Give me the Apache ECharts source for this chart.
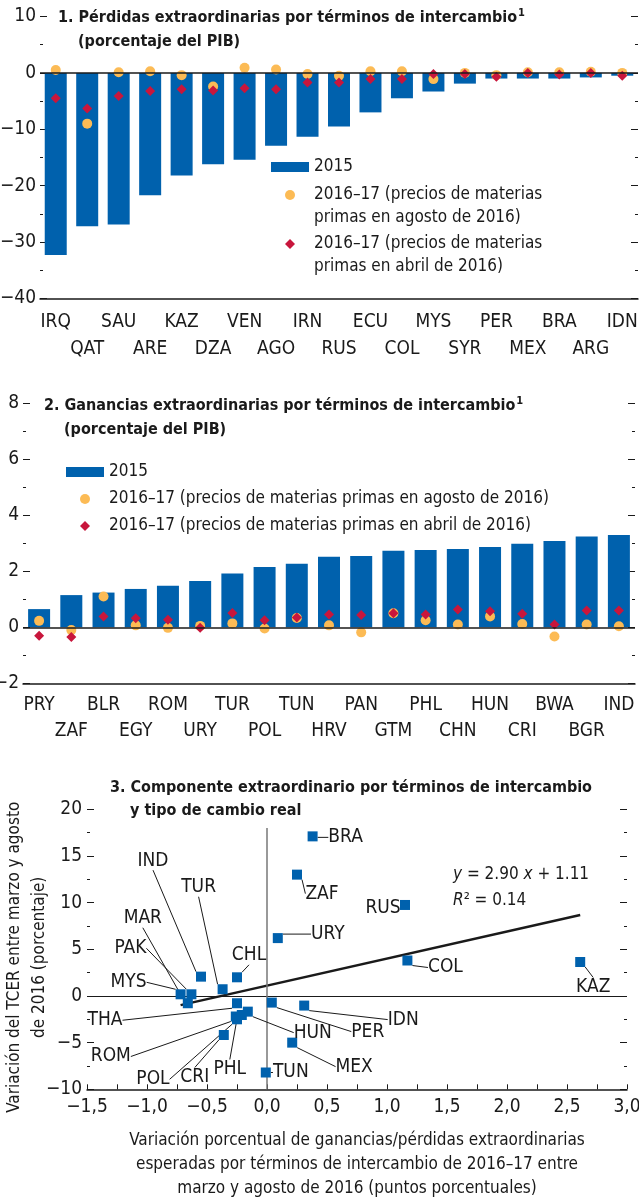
<!DOCTYPE html>
<html>
<head>
<meta charset="utf-8">
<script src="https://cdn.jsdelivr.net/npm/echarts@6/dist/echarts.min.js"></script>
<style>
  html, body { margin: 0; padding: 0; background: #fff; }
  #chart { width: 639px; height: 1197px; }
</style>
</head>
<body>
<div id="chart"></div>
<script>
  // panel 1: losses
  var cats1 = ['IRQ','QAT','SAU','ARE','KAZ','DZA','VEN','AGO','IRN','RUS','ECU','COL','MYS','SYR','PER','MEX','BRA','ARG','IDN'];
  var bar1 = [-32.3,-27.2,-26.9,-21.7,-18.2,-16.2,-15.4,-12.9,-11.3,-9.5,-7.0,-4.5,-3.3,-1.9,-1.0,-1.0,-1.0,-0.8,-0.5];
  var aug1 = [0.5,-9.0,0.1,0.3,-0.4,-2.4,0.9,0.6,-0.2,-0.5,0.3,0.3,-1.1,0.0,-0.4,0.1,0.1,0.2,0.0];
  var apr1 = [-4.5,-6.3,-4.1,-3.2,-2.9,-3.1,-2.7,-2.9,-1.7,-1.7,-1.1,-1.1,-0.2,-0.2,-0.7,0.0,-0.3,0.0,-0.5];

  // panel 2: gains
  var cats2 = ['PRY','ZAF','BLR','EGY','ROM','URY','TUR','POL','TUN','HRV','PAN','GTM','PHL','CHN','HUN','CRI','BWA','BGR','IND'];
  var bar2 = [0.65,1.15,1.24,1.37,1.48,1.65,1.92,2.15,2.27,2.52,2.55,2.73,2.76,2.8,2.87,2.98,3.08,3.24,3.3];
  var aug2 = [0.23,-0.1,1.1,0.07,-0.02,0.05,0.14,-0.04,0.33,0.07,-0.18,0.5,0.25,0.1,0.39,0.12,-0.33,0.1,0.04];
  var apr2 = [-0.3,-0.35,0.39,0.32,0.27,-0.02,0.51,0.25,0.35,0.46,0.44,0.5,0.46,0.64,0.57,0.48,0.1,0.6,0.6];

  // panel 3: scatter
  var names3 = ['BRA','ZAF','URY','RUS','COL','KAZ','IND','TUR','CHL','MAR','PAK','MYS','THA','ROM','POL','CRI','PHL','HUN','PER','IDN','MEX','TUN'];
  var x3 = [0.38,0.25,0.09,1.15,1.17,2.61,-0.55,-0.37,-0.25,-0.66,-0.63,-0.72,-0.25,-0.26,-0.25,-0.36,-0.21,-0.16,0.04,0.31,0.21,-0.01];
  var y3 = [17.1,13.0,6.2,9.75,3.8,3.64,2.07,0.72,2.0,-0.78,0.18,0.18,-0.78,-2.2,-2.5,-4.18,-2.04,-1.68,-0.71,-1.03,-5.0,-8.2];
  var trendSlope = 2.90;
  var trendIntercept = 1.11;

  var S_BAR = '2015';
  var S_AUG = '2016\u201317 (precios de materias primas en agosto de 2016)';
  var S_APR = '2016\u201317 (precios de materias primas en abril de 2016)';

  var BLUE = '#0061ad', ORANGE = '#fcbb55', RED = '#c8163c', INK = '#1a1a1a';
  var FONT = "'Liberation Sans Narrow', 'DejaVu Sans Condensed', 'Arial Narrow', sans-serif";
  var FS = 19;   // tick labels, codes
  var FT = 17;   // longer running text
  var DIAMOND = 'path://M0,-1L1,0L0,1L-1,0Z';

  // label offsets (px) for the scatter names: label centre minus point
  var labelOffset = {
    BRA:[33,1], ZAF:[25,19], URY:[50,-4], RUS:[-22,3], COL:[38,7], KAZ:[13,25],
    IND:[-48,-116], TUR:[-24,-102], CHL:[12,-22], MAR:[-45,-85], PAK:[-61,-46], MYS:[-52,-12],
    THA:[-132,17], ROM:[-125,40], POL:[-84,60], CRI:[-29,42], PHL:[-12,54], HUN:[65,21],
    PER:[96,29], IDN:[99,14], MEX:[62,24], TUN:[25,0]
  };

  function minus(v) { return v < 0 ? '\u2212' + Math.abs(v) : String(v); }
  function comma(v) { var s = Math.abs(v).toFixed(1).replace('.', ','); return v < 0 ? '\u2212' + s : s; }
  function twoRows(v, i) { return i % 2 ? '\n' + v : v; }

  var bold = { fontFamily: FONT, fontSize: 16, color: INK, fontWeight: 'bold', lineHeight: 22 };
  var legendText = { fontFamily: FONT, fontSize: FT, color: INK, lineHeight: 22 };

  function leftAxis(grid, min, max, step, margin) {
    return {
      type: 'value', gridIndex: grid, min: min, max: max, interval: step, position: 'left',
      axisLine: { show: false, onZero: false },
      axisTick: { show: true, inside: true, length: 7, lineStyle: { color: INK, width: 1 } },
      minorTick: { show: true, splitNumber: 2, length: 3, lineStyle: { color: INK, width: 1 } },
      axisLabel: { formatter: minus, margin: margin, fontFamily: FONT, fontSize: FS, color: INK },
      splitLine: { show: false }
    };
  }
  function rightAxis(grid, min, max, step) {
    return {
      type: 'value', gridIndex: grid, min: min, max: max, interval: step, position: 'right',
      axisLine: { show: false, onZero: false },
      axisTick: { show: true, inside: true, length: 7, lineStyle: { color: INK, width: 1 } },
      minorTick: { show: true, splitNumber: 2, length: 3, lineStyle: { color: INK, width: 1 } },
      axisLabel: { show: false },
      splitLine: { show: false }
    };
  }
  function catAxis(grid, cats, margin, lh) {
    return {
      type: 'category', gridIndex: grid, data: cats, position: 'bottom',
      axisLine: { onZero: false, lineStyle: { color: INK, width: 1.5 } },
      axisTick: { inside: true, alignWithLabel: true, length: 6, lineStyle: { color: INK } },
      axisLabel: { interval: 0, formatter: twoRows, margin: margin, lineHeight: lh,
        fontFamily: FONT, fontSize: FS, color: INK }
    };
  }
  var zeroLine = {
    silent: true, symbol: 'none', label: { show: false },
    lineStyle: { color: INK, type: 'solid', width: 1.5 },
    data: [{ yAxis: 0 }]
  };
  var supStyle = { fontFamily: FONT, fontSize: 11, fontWeight: 'bold', color: INK, padding: [0, 0, 9, 1] };

  var chart = echarts.init(document.getElementById('chart'));
  chart.setOption({
    animation: false,
    backgroundColor: '#fff',
    textStyle: { fontFamily: FONT },
    title: [
      { left: 58, top: 7, padding: 0, text: '{b|1. P\u00e9rdidas extraordinarias por t\u00e9rminos de intercambio}{s|1}',
        textStyle: { rich: { b: bold, s: supStyle } } },
      { left: 78, top: 31, padding: 0, text: '(porcentaje del PIB)', textStyle: bold },
      { left: 44, top: 395, padding: 0, text: '{b|2. Ganancias extraordinarias por t\u00e9rminos de intercambio}{s|1}',
        textStyle: { rich: { b: bold, s: supStyle } } },
      { left: 64, top: 419, padding: 0, text: '(porcentaje del PIB)', textStyle: bold },
      { left: 110, top: 777, padding: 0, text: '3. Componente extraordinario por t\u00e9rminos de intercambio', textStyle: bold },
      { left: 130, top: 800, padding: 0, text: 'y tipo de cambio real', textStyle: bold }
    ],
    legend: [
      { left: 266, top: 151, orient: 'vertical', selectedMode: false, itemWidth: 38, itemHeight: 10,
        data: [{ name: S_BAR, icon: 'rect' }], textStyle: legendText },
      { left: 280, top: 179, orient: 'vertical', selectedMode: false, itemWidth: 38, itemHeight: 10,
        data: [{ name: S_AUG, icon: 'circle' }],
        formatter: function (n) { return n.split(' primas')[0]; }, textStyle: legendText },
      { left: 280, top: 228, orient: 'vertical', selectedMode: false, itemWidth: 38, itemHeight: 10,
        data: [{ name: S_APR, icon: DIAMOND }],
        formatter: function (n) { return n.split(' primas')[0]; }, textStyle: legendText },
      { left: 61, top: 456, orient: 'vertical', itemGap: 5, selectedMode: false, itemWidth: 38, itemHeight: 10,
        data: [{ name: S_BAR, icon: 'rect' }, { name: S_AUG, icon: 'circle' }, { name: S_APR, icon: DIAMOND }],
        textStyle: legendText }
    ],
    graphic: [
      { type: 'text', left: 314, top: 209, style: { text: 'primas en agosto de 2016)', font: FT + 'px ' + FONT, fill: INK } },
      { type: 'text', left: 314, top: 258, style: { text: 'primas en abril de 2016)', font: FT + 'px ' + FONT, fill: INK } },
      { type: 'text', left: 453, top: 862, style: {
          text: '{i|y} = 2.90 {i|x} + 1.11\n{i|R}\u00b2 = 0.14', font: FT + 'px ' + FONT, fill: INK, lineHeight: 26,
          rich: { i: { fontStyle: 'italic', fontFamily: FONT, fontSize: FT, fill: INK } } } }
    ],
    grid: [
      { left: 40, right: 1, top: 16.5, height: 282, outerBoundsMode: 'none' },
      { left: 23, right: 4, top: 403.3, height: 280, outerBoundsMode: 'none' },
      { left: 87, right: 12, top: 809.3, height: 280, outerBoundsMode: 'none' }
    ],
    xAxis: [
      catAxis(0, cats1, 10, 27),
      catAxis(1, cats2, 9, 26),
      {
        type: 'value', gridIndex: 2, min: -1.5, max: 3.0, interval: 0.5, position: 'bottom',
        axisLine: { onZero: false, lineStyle: { color: INK, width: 1.5 } },
        axisTick: { inside: true, length: 5, lineStyle: { color: INK } },
        minorTick: { show: true, splitNumber: 2, length: 5, lineStyle: { color: INK } },
        axisLabel: { formatter: comma, margin: 8, fontFamily: FONT, fontSize: FS, color: INK },
        splitLine: { show: false },
        name: 'Variaci\u00f3n porcentual de ganancias/p\u00e9rdidas extraordinarias\nesperadas por t\u00e9rminos de intercambio de 2016\u201317 entre\nmarzo y agosto de 2016 (puntos porcentuales)',
        nameLocation: 'middle', nameGap: 39,
        nameTextStyle: { fontFamily: FONT, fontSize: FT, color: INK, lineHeight: 24 }
      }
    ],
    yAxis: [
      leftAxis(0, -40, 10, 10, 4),
      rightAxis(0, -40, 10, 10),
      leftAxis(1, -2, 8, 2, 4),
      rightAxis(1, -2, 8, 2),
      Object.assign(leftAxis(2, -10, 20, 5, 5), {
        name: 'Variaci\u00f3n del TCER entre marzo y agosto\nde 2016 (porcentaje)',
        nameLocation: 'middle', nameGap: 35, nameRotate: 90, nameMoveOverlap: false,
        nameTextStyle: { fontFamily: FONT, fontSize: FT, color: INK, lineHeight: 25, padding: [0, 16, 0, 0] }
      }),
      rightAxis(2, -10, 20, 5)
    ],
    series: [
      { name: S_BAR, type: 'bar', xAxisIndex: 0, yAxisIndex: 0, data: bar1, barWidth: 22,
        itemStyle: { color: BLUE }, markLine: zeroLine },
      { name: S_AUG, type: 'scatter', xAxisIndex: 0, yAxisIndex: 0, data: aug1, symbol: 'circle', symbolSize: 10,
        itemStyle: { color: ORANGE, opacity: 1 }, z: 3 },
      { name: S_APR, type: 'scatter', xAxisIndex: 0, yAxisIndex: 0, data: apr1, symbol: 'diamond', symbolSize: 10,
        itemStyle: { color: RED, opacity: 1 }, z: 4 },

      { name: S_BAR, type: 'bar', xAxisIndex: 1, yAxisIndex: 2, data: bar2, barWidth: 22,
        itemStyle: { color: BLUE }, markLine: zeroLine },
      { name: S_AUG, type: 'scatter', xAxisIndex: 1, yAxisIndex: 2, data: aug2, symbol: 'circle', symbolSize: 10,
        itemStyle: { color: ORANGE, opacity: 1 }, z: 3 },
      { name: S_APR, type: 'scatter', xAxisIndex: 1, yAxisIndex: 2, data: apr2, symbol: 'diamond', symbolSize: 10,
        itemStyle: { color: RED, opacity: 1 }, z: 4 },

      { name: 'tendencia', type: 'line', xAxisIndex: 2, yAxisIndex: 4, symbol: 'none', silent: true,
        lineStyle: { color: INK, width: 2.5 },
        data: [Math.min.apply(null, x3), Math.max.apply(null, x3)].map(function (x) {
          return [x, trendSlope * x + trendIntercept];
        }),
        markLine: {
          silent: true, symbol: 'none', label: { show: false },
          data: [
            { yAxis: 0, lineStyle: { color: INK, type: 'solid', width: 1.2 } },
            [{ coord: [0, 18], lineStyle: { color: '#777', type: 'solid', width: 1.5 } }, { coord: [0, -10] }]
          ]
        }
      },
      { name: 'pa\u00edses', type: 'scatter', xAxisIndex: 2, yAxisIndex: 4, symbol: 'rect', symbolSize: 10, z: 5,
        itemStyle: { color: BLUE, opacity: 1 },
        data: names3.map(function (n, i) { return { name: n, value: [x3[i], y3[i]] }; }),
        label: { show: true, position: 'inside', formatter: '{b}', fontFamily: FONT, fontSize: FS, color: INK },
        labelLine: { show: true, lineStyle: { color: INK, width: 1 } },
        labelLayout: function (p) {
          var o = labelOffset[names3[p.dataIndex]];
          return { dx: o[0], dy: o[1] };
        }
      }
    ]
  });
</script>
</body>
</html>
